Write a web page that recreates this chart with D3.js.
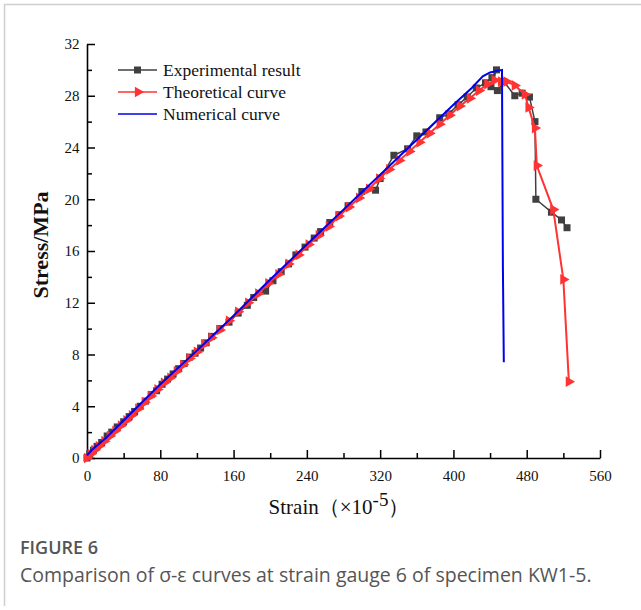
<!DOCTYPE html>
<html>
<head>
<meta charset="utf-8">
<script src="https://cdn.jsdelivr.net/npm/d3@7"></script>
<style>
  body { margin: 0; background: #fff; }
  svg { display: block; }
</style>
</head>
<body>
<svg id="chart" width="641" height="610"></svg>
<script>
// ---- data ----
const expStrain = [0,3,7,11,16,22,27,33,40,46,52,58,64,70,76,82,88,94,100,106,112,118,124,130,136,145,155,165,175,182,195,203,212,220,228,238,248,255,265,275,285,300,315,320,335,350,360,370,385,395,405,415,425,435,442,447,441,448,455,467,475,483,489,490,507,518,524];
const expStress = [0,0.3,0.6,0.9,1.2,1.7,2.0,2.4,2.8,3.2,3.6,4.0,4.4,4.9,5.2,5.7,6.1,6.5,6.9,7.3,7.8,8.1,8.5,8.9,9.4,10.0,10.5,11.2,11.8,12.4,12.9,13.7,14.4,15.0,15.7,16.3,17.0,17.5,18.2,18.8,19.5,20.6,20.7,21.6,23.4,23.9,24.9,25.2,26.3,26.6,27.3,27.9,28.6,29.0,29.4,30.0,28.7,28.4,29.1,28.0,28.2,27.9,26.0,20.0,19.0,18.4,17.8];

const theoStrain = [0,4,8,13,19,25,31,37,43,49,56,63,70,77,84,91,98,105,112,120,128,136,145,155,165,176,187,198,209,220,231,242,253,264,275,286,297,308,319,330,341,352,363,374,385,396,407,418,428,437,445,452,458,467,478,482,489,491,509,520,526];
const theoStress = [0,0.3,0.6,0.9,1.3,1.7,2.1,2.5,2.9,3.3,3.8,4.3,4.8,5.3,5.8,6.2,6.7,7.2,7.7,8.2,8.8,9.3,9.9,10.6,11.3,12.0,12.7,13.5,14.2,15.0,15.7,16.5,17.2,17.9,18.7,19.4,20.1,20.8,21.6,22.3,23.0,23.7,24.4,25.1,25.8,26.5,27.2,27.8,28.4,28.9,29.2,29.1,29.1,28.8,28.1,27.1,25.5,22.6,19.2,13.8,5.9];

const numStrain = [0,5,10,20,40,80,120,160,200,240,280,320,360,400,420,432,440,453,454,455];
const numStress = [0.2,0.6,0.9,1.5,2.9,5.7,8.3,11.0,13.8,16.5,19.2,21.9,24.6,27.3,28.6,29.5,29.8,30.0,14.8,7.4];

const xTicks = [0,80,160,240,320,400,480,560];
const yTicks = [0,4,8,12,16,20,24,28,32];
const seriesNames = ["Experimental result","Theoretical curve","Numerical curve"];
const seriesColors = ["#404040","#ff3333","#0000ee"];

// ---- layout ----
const svg = d3.select("#chart");
const mLeft = 87, mRight = 600, mTop = 44, mBottom = 458;
const x = d3.scaleLinear().domain([0,560]).range([mLeft,mRight]);
const y = d3.scaleLinear().domain([0,32]).range([mBottom,mTop]);

// frame border
svg.append("line").attr("x1",4).attr("x2",641).attr("y1",4.5).attr("y2",4.5).attr("stroke","#cfcfcf").attr("stroke-width",1.5);
svg.append("line").attr("x1",4.5).attr("x2",4.5).attr("y1",4).attr("y2",606).attr("stroke","#cfcfcf").attr("stroke-width",1.5);

const serif = "'Liberation Serif','Times New Roman',serif";

// axes
const xAxis = d3.axisBottom(x).tickValues(d3.range(0,561,40)).tickSizeInner(-8).tickSizeOuter(0)
  .tickFormat(d => xTicks.includes(d) ? d : "");
const gx = svg.append("g").attr("transform",`translate(0,${mBottom})`).call(xAxis);
gx.selectAll(".tick line").attr("y2", d => xTicks.includes(d) ? -8 : -5);
const yAxis = d3.axisLeft(y).tickValues(d3.range(0,33,2)).tickSizeInner(-8).tickSizeOuter(0)
  .tickFormat(d => yTicks.includes(d) ? d : "");
const gy = svg.append("g").attr("transform",`translate(${mLeft},0)`).call(yAxis);
gy.selectAll(".tick line").attr("x2", d => yTicks.includes(d) ? 8 : 5);
[gx,gy].forEach(g => {
  g.select(".domain").attr("stroke","#000").attr("stroke-width",1.6);
  g.selectAll(".tick line").attr("stroke","#000").attr("stroke-width",1.5);
  g.selectAll("text").attr("font-family",serif).attr("font-size",15).attr("fill","#111");
});
gx.selectAll("text").attr("dy","1.3em");
gy.selectAll("text").attr("dx","-0.3em");

// lines
const line = d3.line().x(d => x(d[0])).y(d => y(d[1]));
const expData = expStrain.map((s,i) => [s, expStress[i]]);
const theoData = theoStrain.map((s,i) => [s, theoStress[i]]);
const numData = numStrain.map((s,i) => [s, numStress[i]]);

svg.append("path").datum(expData).attr("d",line).attr("fill","none").attr("stroke",seriesColors[0]).attr("stroke-width",1.5);
svg.selectAll(".sq").data(expData).enter().append("rect")
  .attr("x",d => x(d[0])-3.5).attr("y",d => y(d[1])-3.5).attr("width",7).attr("height",7).attr("fill",seriesColors[0]);

svg.append("path").datum(theoData).attr("d",line).attr("fill","none").attr("stroke",seriesColors[1]).attr("stroke-width",2);
const tri = d3.symbol().type(d3.symbolTriangle).size(50);
svg.selectAll(".tri").data(theoData).enter().append("path")
  .attr("d",tri).attr("transform",d => `translate(${x(d[0])},${y(d[1])}) rotate(90)`).attr("fill",seriesColors[1]);

svg.append("path").datum(numData).attr("d",line).attr("fill","none").attr("stroke",seriesColors[2]).attr("stroke-width",2);

// legend
const lg = svg.append("g");
seriesNames.forEach((n,i) => {
  const yy = 70 + i*22;
  lg.append("line").attr("x1",118).attr("x2",157).attr("y1",yy).attr("y2",yy).attr("stroke",seriesColors[i]).attr("stroke-width",1.6);
  if (i===0) lg.append("rect").attr("x",134).attr("y",yy-3.5).attr("width",7).attr("height",7).attr("fill",seriesColors[0]);
  if (i===1) lg.append("path").attr("d",tri).attr("transform",`translate(138,${yy}) rotate(90)`).attr("fill",seriesColors[1]);
  lg.append("text").attr("x",163).attr("y",yy+5.5).text(n).attr("font-family",serif).attr("font-size",17.5).attr("fill","#111");
});

// axis titles
const xt = svg.append("text").attr("x",339).attr("y",514).attr("text-anchor","middle")
  .attr("font-family",serif).attr("font-size",21).attr("fill","#111");
xt.append("tspan").text("Strain（×10");
xt.append("tspan").text("-5").attr("dy",-8).attr("font-size",19);
xt.append("tspan").text("）").attr("dy",8);

svg.append("text").attr("transform","translate(48,245) rotate(-90)").attr("text-anchor","middle")
  .attr("font-family",serif).attr("font-size",22).attr("font-weight","bold").attr("fill","#111").text("Stress/MPa");

// caption
const sans = "'Open Sans','Noto Sans',sans-serif";
svg.append("text").attr("x",20).attr("y",554).attr("font-family",sans).attr("font-size",18).attr("font-weight",600).attr("fill","#555").text("FIGURE 6");
svg.append("text").attr("x",20).attr("y",582).attr("font-family",sans).attr("font-size",19.5).attr("fill","#555")
  .text("Comparison of σ-ε curves at strain gauge 6 of specimen KW1-5.");
</script>
</body>
</html>
